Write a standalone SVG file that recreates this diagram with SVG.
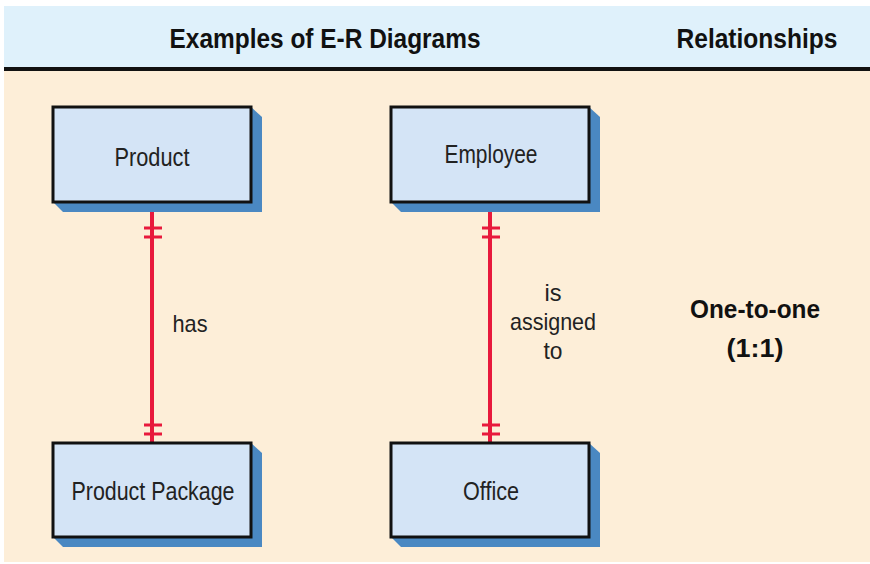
<svg xmlns="http://www.w3.org/2000/svg" width="870" height="564" viewBox="0 0 870 564">
<defs>
<style>
.bg{fill:#fdeed8}
.hdr{fill:#dff1fb}
.shadow{fill:#4a88c2}
.box{fill:#d4e4f6;stroke:#111;stroke-width:3}
.t{font-family:"Liberation Sans",Arial,sans-serif;fill:#222;text-anchor:middle}
.h{font-family:"Liberation Sans",Arial,sans-serif;font-weight:bold;fill:#111;text-anchor:middle}
.rel{stroke:#e8193c;stroke-width:4;fill:none}
.tick{stroke:#e8193c;stroke-width:3}
</style>
</defs>
<rect x="0" y="0" width="870" height="564" fill="#ffffff"/>
<rect class="bg" x="4" y="70" width="866" height="492"/>
<rect class="hdr" x="4" y="6" width="866" height="62"/>
<rect x="4" y="67" width="866" height="4" fill="#111"/>
<text class="h" x="325" y="48" font-size="28" textLength="311" lengthAdjust="spacingAndGlyphs">Examples of E-R Diagrams</text>
<text class="h" x="757" y="48" font-size="28" textLength="161" lengthAdjust="spacingAndGlyphs">Relationships</text>
<g id="connectors">
<line class="rel" x1="152" y1="212" x2="152" y2="443"/>
<line class="tick" x1="144" y1="228" x2="162" y2="228"/>
<line class="tick" x1="144" y1="237" x2="162" y2="237"/>
<line class="tick" x1="144" y1="425" x2="162" y2="425"/>
<line class="tick" x1="144" y1="434" x2="162" y2="434"/>
<text class="t" x="190" y="332" font-size="24" textLength="35" lengthAdjust="spacingAndGlyphs">has</text>
<line class="rel" x1="490" y1="212" x2="490" y2="443"/>
<line class="tick" x1="482" y1="228" x2="500" y2="228"/>
<line class="tick" x1="482" y1="237" x2="500" y2="237"/>
<line class="tick" x1="482" y1="425" x2="500" y2="425"/>
<line class="tick" x1="482" y1="434" x2="500" y2="434"/>
<text class="t" x="553" y="301" font-size="24" textLength="17" lengthAdjust="spacingAndGlyphs">is</text>
<text class="t" x="553" y="330" font-size="24" textLength="86" lengthAdjust="spacingAndGlyphs">assigned</text>
<text class="t" x="553" y="359" font-size="24" textLength="19" lengthAdjust="spacingAndGlyphs">to</text>
</g>
<g id="product">
<polygon class="shadow" points="251,107 262,117 262,212 63,212 53,202"/>
<rect class="box" x="53" y="107" width="198" height="95"/>
<text class="t" x="152" y="166" font-size="25" textLength="75" lengthAdjust="spacingAndGlyphs">Product</text>
</g>
<g id="product-package">
<polygon class="shadow" points="251,443 262,453 262,547 63,547 53,537"/>
<rect class="box" x="53" y="443" width="198" height="94"/>
<text class="t" x="153" y="500" font-size="25" textLength="163" lengthAdjust="spacingAndGlyphs">Product Package</text>
</g>
<g id="employee">
<polygon class="shadow" points="589,107 600,117 600,212 401,212 391,202"/>
<rect class="box" x="391" y="107" width="198" height="95"/>
<text class="t" x="491" y="163" font-size="25" textLength="93" lengthAdjust="spacingAndGlyphs">Employee</text>
</g>
<g id="office">
<polygon class="shadow" points="589,443 600,453 600,547 401,547 391,537"/>
<rect class="box" x="391" y="443" width="198" height="94"/>
<text class="t" x="491" y="500" font-size="25" textLength="56" lengthAdjust="spacingAndGlyphs">Office</text>
</g>
<g id="label">
<text class="h" x="755" y="318" font-size="26" textLength="130" lengthAdjust="spacingAndGlyphs">One-to-one</text>
<text class="h" x="755" y="357" font-size="26" textLength="57" lengthAdjust="spacingAndGlyphs">(1:1)</text>
</g>
</svg>
